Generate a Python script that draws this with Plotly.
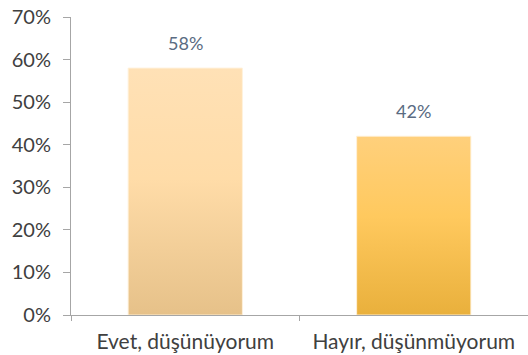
import plotly.graph_objects as go

# Survey answers and their shares
categories = ["Evet, düşünüyorum", "Hayır, düşünmüyorum"]
shares = [0.58, 0.42]
value_labels = ["58%", "42%"]

# Vertical gradients for each bar (bottom, middle, top colour)
gradients = [
    ("#E6C189", "#FFDCA8", "#FFE1B6"),
    ("#E9B03C", "#FFC95E", "#FFD07C"),
]
half_width = 0.25

fig = go.Figure()

for i, (share, (c_bot, c_mid, c_top)) in enumerate(zip(shares, gradients)):
    xs = [i - half_width, i - half_width, i + half_width, i + half_width, i - half_width]
    ys = [0, share, share, 0, 0]
    fig.add_trace(go.Scatter(
        x=xs, y=ys,
        mode="lines",
        fill="toself",
        line=dict(color="rgba(255,242,220,0.9)", width=1),
        fillgradient=dict(
            type="vertical",
            colorscale=[[0, c_bot], [0.55, c_mid], [1, c_top]],
        ),
        hoverinfo="skip",
        showlegend=False,
    ))

# Value labels above the bars
for i, (share, label) in enumerate(zip(shares, value_labels)):
    fig.add_annotation(
        x=i, y=share,
        text=label,
        showarrow=False,
        yanchor="bottom",
        yshift=12,
        font=dict(family="Lato", size=18, color="#5A6B82"),
    )

fig.update_layout(
    width=528,
    height=355,
    margin=dict(l=71, r=0, t=17, b=40),
    paper_bgcolor="white",
    plot_bgcolor="white",
    font=dict(family="Lato", color="#404040"),
)

fig.update_xaxes(
    range=[-0.5, len(categories) - 0.5],
    tickmode="array",
    tickvals=list(range(len(categories))),
    ticktext=categories,
    ticks="",
    tickfont=dict(family="Lato", size=21, color="#404040"),
    ticklabelstandoff=8,
    showgrid=False,
    zeroline=False,
    showline=True,
    linecolor="#A6A6A6",
    linewidth=1,
    minor=dict(
        tickmode="array",
        tickvals=[k - 0.5 for k in range(len(categories) + 1)],
        ticks="outside",
        ticklen=5,
        tickcolor="#A6A6A6",
        tickwidth=1,
        showgrid=False,
    ),
)

fig.update_yaxes(
    range=[0, 0.7],
    tickmode="linear",
    tick0=0,
    dtick=0.1,
    tickformat=".0%",
    ticks="outside",
    ticklen=7,
    tickcolor="#A6A6A6",
    tickfont=dict(family="Lato", size=20, color="#404040"),
    ticklabelstandoff=8,
    showgrid=False,
    zeroline=False,
    showline=True,
    linecolor="#A6A6A6",
    linewidth=1,
)

fig.write_html("out.html")
